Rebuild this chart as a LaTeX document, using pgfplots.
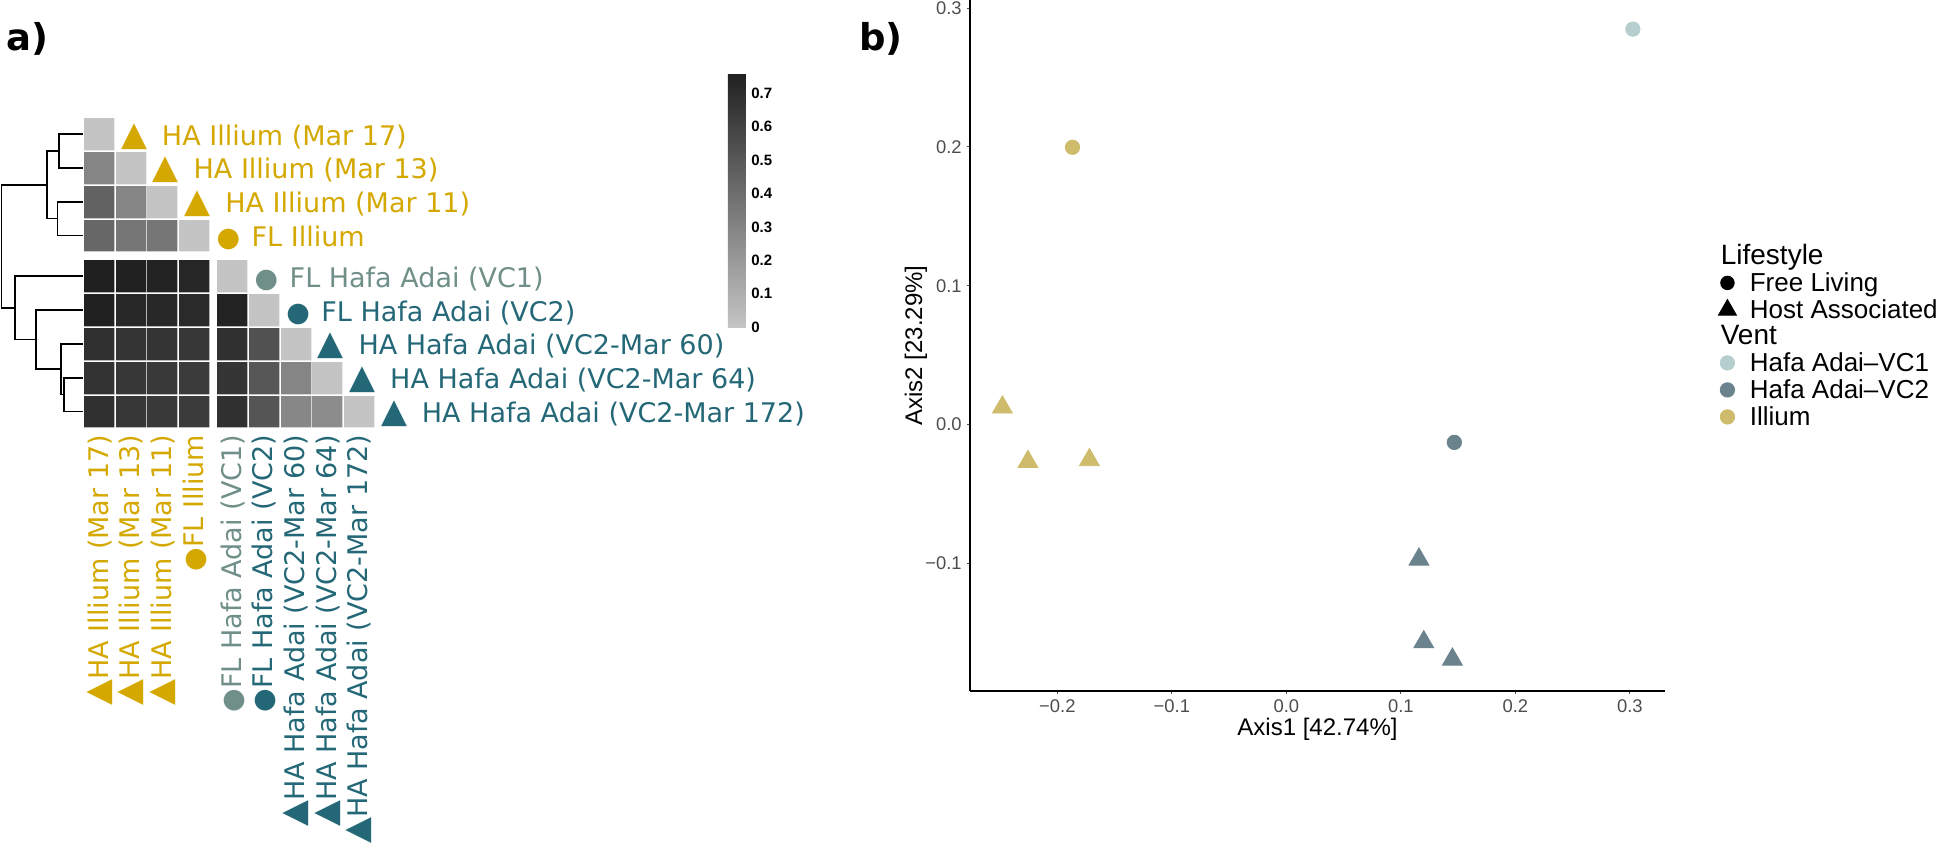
\documentclass[border=0pt]{standalone}
\usepackage{fontspec}
\setmainfont{Liberation Sans}
\newfontfamily\lab{DejaVu Sans}
\newfontfamily\hel{Liberation Sans}
\usepackage{pgfplots}
\pgfplotsset{compat=1.18}
\usepackage{pgfplotstable}
\usetikzlibrary{calc}

\definecolor{ill}{RGB}{212,168,0}
\definecolor{vcone}{RGB}{111,143,136}
\definecolor{vctwo}{RGB}{36,104,120}
\definecolor{pVCone}{RGB}{182,206,206}
\definecolor{pVCtwo}{RGB}{106,131,140}
\definecolor{pIll}{RGB}{206,188,108}
\definecolor{ticklab}{RGB}{77,77,77}

\newcommand\tri{\scalebox{1.25}{▲}}
\newcommand\cir{\scalebox{1.0}{●}}
\newcommand\lfont{\lab\fontsize{13.5}{16}\selectfont}

\pgfplotstableread{
x y v
1 1 0
1 2 0.29
2 2 0
1 3 0.45
2 3 0.29
3 3 0
1 4 0.43
2 4 0.36
3 4 0.36
4 4 0
1 5.2 0.76
2 5.2 0.75
3 5.2 0.74
4 5.2 0.73
5.2 5.2 0
1 6.2 0.75
2 6.2 0.72
3 6.2 0.72
4 6.2 0.71
5.2 6.2 0.74
6.2 6.2 0
1 7.2 0.68
2 7.2 0.66
3 7.2 0.66
4 7.2 0.65
5.2 7.2 0.68
6.2 7.2 0.53
7.2 7.2 0
1 8.2 0.67
2 8.2 0.65
3 8.2 0.64
4 8.2 0.63
5.2 8.2 0.66
6.2 8.2 0.50
7.2 8.2 0.29
8.2 8.2 0
1 9.2 0.68
2 9.2 0.65
3 9.2 0.64
4 9.2 0.63
5.2 9.2 0.68
6.2 9.2 0.51
7.2 9.2 0.28
8.2 9.2 0.26
9.2 9.2 0
}\heat

\begin{document}
\begin{tikzpicture}
\path[use as bounding box] (0,0) rectangle (973pt,-426.5pt);

% panel labels
\node[anchor=base west, inner sep=0pt, font=\lab\bfseries\fontsize{18.5}{20}\selectfont] at (3pt,-25pt) {a)};
\node[anchor=base west, inner sep=0pt, font=\lab\bfseries\fontsize{18.5}{20}\selectfont] at (429.5pt,-25pt) {b)};

% dendrogram
\begin{axis}[at={(0pt,-58.55pt)}, anchor=north west, scale only axis,
  width=41pt, height=155.71pt, xmin=0, xmax=0.82, x dir=reverse,
  ymin=0.5, ymax=9.7, y dir=reverse, hide axis, clip=false]
\addplot[black, solid, no markers, line width=0.8pt, line cap=rect] coordinates {(0,1) (0.23,1) (0.23,2) (0,2)};
\addplot[black, solid, no markers, line width=0.8pt, line cap=rect] coordinates {(0,3) (0.247,3) (0.247,4) (0,4)};
\addplot[black, solid, no markers, line width=0.8pt, line cap=rect] coordinates {(0.23,1.5) (0.353,1.5) (0.353,3.5) (0.247,3.5)};
\addplot[black, solid, no markers, line width=0.8pt, line cap=rect] coordinates {(0,8.2) (0.183,8.2) (0.183,9.2) (0,9.2)};
\addplot[black, solid, no markers, line width=0.8pt, line cap=rect] coordinates {(0,7.2) (0.21,7.2) (0.21,8.7) (0.183,8.7)};
\addplot[black, solid, no markers, line width=0.8pt, line cap=rect] coordinates {(0,6.2) (0.46,6.2) (0.46,7.95) (0.21,7.95)};
\addplot[black, solid, no markers, line width=0.8pt, line cap=rect] coordinates {(0,5.2) (0.67,5.2) (0.67,7.075) (0.46,7.075)};
\addplot[black, solid, no markers, line width=0.8pt, line cap=rect] coordinates {(0.353,2.5) (0.803,2.5) (0.803,6.1375) (0.67,6.1375)};
\end{axis}

% heatmap
\begin{axis}[at={(41.58pt,-58.55pt)}, anchor=north west, scale only axis,
  width=145.82pt, height=155.71pt, xmin=0.5, xmax=9.7, ymin=0.5, ymax=9.7,
  y dir=reverse, axis line style={draw=none}, xtick=\empty, ytick=\empty,
  clip=false,
  colormap={hm}{rgb255=(196,196,196) rgb255=(32,32,32)},
  point meta min=0, point meta max=0.761,
  colorbar,
  colorbar style={
    at={($(parent axis.north east)+(168pt,22.05pt)$)}, anchor=north west,
    scale only axis, width=9pt, height=127pt,
    axis line style={draw=none},
    ytick={0,0.1,0.2,0.3,0.4,0.5,0.6,0.7},
    major tick length=0pt,
    /pgf/number format/assume math mode=true,
    yticklabel style={font=\hel\bfseries\fontsize{7.5}{9}\selectfont, inner sep=0pt, xshift=2.5pt},
  }]
\addplot[scatter, only marks, mark=square*, mark size=7.5pt, point meta=explicit,
  scatter/use mapped color={draw=mapped color, fill=mapped color},
  mark options={yscale=1.057, line width=0.01pt}] table[x=x, y=y, meta=v] {\heat};

% right labels
\node[anchor=base west, inner sep=0pt, text=ill, font=\lfont] at (axis cs:1.69,1.325) {\makebox[20.35pt][l]{\tri}HA Illium (Mar 17)};
\node[anchor=base west, inner sep=0pt, text=ill, font=\lfont] at (axis cs:2.69,2.325) {\makebox[20.35pt][l]{\tri}HA Illium (Mar 13)};
\node[anchor=base west, inner sep=0pt, text=ill, font=\lfont] at (axis cs:3.69,3.325) {\makebox[20.35pt][l]{\tri}HA Illium (Mar 11)};
\node[anchor=base west, inner sep=0pt, text=ill, font=\lfont] at (axis cs:4.7,4.325) {\makebox[17.5pt][l]{\cir}FL Illium};
\node[anchor=base west, inner sep=0pt, text=vcone, font=\lfont] at (axis cs:5.9,5.525) {\makebox[17.5pt][l]{\cir}FL Hafa Adai (VC1)};
\node[anchor=base west, inner sep=0pt, text=vctwo, font=\lfont] at (axis cs:6.9,6.525) {\makebox[17.5pt][l]{\cir}FL Hafa Adai (VC2)};
\node[anchor=base west, inner sep=0pt, text=vctwo, font=\lfont] at (axis cs:7.89,7.525) {\makebox[20.35pt][l]{\tri}HA Hafa Adai (VC2-Mar 60)};
\node[anchor=base west, inner sep=0pt, text=vctwo, font=\lfont] at (axis cs:8.89,8.525) {\makebox[20.35pt][l]{\tri}HA Hafa Adai (VC2-Mar 64)};
\node[anchor=base west, inner sep=0pt, text=vctwo, font=\lfont] at (axis cs:9.89,9.525) {\makebox[20.35pt][l]{\tri}HA Hafa Adai (VC2-Mar 172)};

% bottom labels
\node[anchor=base east, rotate=90, inner sep=0pt, text=ill, font=\lfont] at (axis cs:1.284,9.877) {\tri HA Illium (Mar 17)};
\node[anchor=base east, rotate=90, inner sep=0pt, text=ill, font=\lfont] at (axis cs:2.284,9.877) {\tri HA Illium (Mar 13)};
\node[anchor=base east, rotate=90, inner sep=0pt, text=ill, font=\lfont] at (axis cs:3.284,9.877) {\tri HA Illium (Mar 11)};
\node[anchor=base east, rotate=90, inner sep=0pt, text=ill, font=\lfont] at (axis cs:4.284,9.877) {\cir FL Illium};
\node[anchor=base east, rotate=90, inner sep=0pt, text=vcone, font=\lfont] at (axis cs:5.484,9.877) {\cir FL Hafa Adai (VC1)};
\node[anchor=base east, rotate=90, inner sep=0pt, text=vctwo, font=\lfont] at (axis cs:6.484,9.877) {\cir FL Hafa Adai (VC2)};
\node[anchor=base east, rotate=90, inner sep=0pt, text=vctwo, font=\lfont] at (axis cs:7.484,9.877) {\tri HA Hafa Adai (VC2-Mar 60)};
\node[anchor=base east, rotate=90, inner sep=0pt, text=vctwo, font=\lfont] at (axis cs:8.484,9.877) {\tri HA Hafa Adai (VC2-Mar 64)};
\node[anchor=base east, rotate=90, inner sep=0pt, text=vctwo, font=\lfont] at (axis cs:9.484,9.877) {\tri HA Hafa Adai (VC2-Mar 172)};
\end{axis}

% panel b: PCoA
\begin{axis}[at={(485pt,-345.5pt)}, anchor=south west, scale only axis,
  width=347.5pt, height=345.5pt,
  xmin=-0.2763, xmax=0.3307, ymin=-0.1923, ymax=0.306,
  axis lines*=left, axis line style={line width=0.9pt, black},
  tick align=outside, major tick length=1.5pt,
  tick style={line width=0.5pt, ticklab},
  xtick={-0.2,-0.1,0,0.1,0.2,0.3}, xticklabels={−0.2,−0.1,0.0,0.1,0.2,0.3},
  ytick={-0.1,0,0.1,0.2,0.3}, yticklabels={−0.1,0.0,0.1,0.2,0.3},
  ticklabel style={font=\hel\fontsize{9.2}{10}\selectfont, text=ticklab},
  xticklabel style={inner sep=0pt, yshift=-2.5pt, anchor=north},
  yticklabel style={inner sep=0pt, xshift=-2.5pt, anchor=east},
  xlabel={Axis1 [42.74\%]}, ylabel={Axis2 [23.29\%]},
  xlabel style={at={(axis description cs:0.5,-0.0637)}, anchor=base, font=\hel\fontsize{12}{13}\selectfont},
  ylabel style={at={(axis description cs:-0.069,0.5)}, anchor=base, font=\hel\fontsize{12}{13}\selectfont},
  clip=false,
  legend image code/.code={\path (-8pt,4.5pt) (11pt,4.5pt); \draw[#1] plot coordinates {(0pt,4.5pt)};},
  legend style={at={(axis description cs:1.0662,0.646)}, anchor=north west,
    draw=none, fill=none, inner sep=0pt, outer sep=0pt, row sep=0pt,
    nodes={inner sep=0pt, outer sep=0pt},
    cells={anchor=base west},
    font=\hel\fontsize{13}{14}\selectfont},
  ]
\addplot[only marks, mark=*, mark size=3.6pt, color=pVCone, forget plot] coordinates {(0.3026,0.285)};
\addplot[only marks, mark=*, mark size=3.6pt, color=pIll, forget plot] coordinates {(-0.1868,0.1998)};
\addplot[only marks, mark=triangle*, mark size=5.75pt, color=pIll, forget plot] coordinates {(-0.248,0.0123) (-0.2257,-0.027) (-0.172,-0.0257)};
\addplot[only marks, mark=*, mark size=3.6pt, color=pVCtwo, forget plot] coordinates {(0.1467,-0.013)};
\addplot[only marks, mark=triangle*, mark size=5.75pt, color=pVCtwo, forget plot] coordinates {(0.1158,-0.0974) (0.120,-0.157) (0.145,-0.1695)};

\addlegendimage{empty legend}
\addlegendentry{\fontsize{14}{15}\selectfont\hspace*{-14.5pt}Lifestyle\rule[-12pt]{0pt}{22pt}}
\addlegendimage{only marks, mark=*, mark size=3.4pt, black}
\addlegendentry{Free Living\rule[-5.5pt]{0pt}{17.5pt}}
\addlegendimage{only marks, mark=triangle*, mark size=5.2pt, black}
\addlegendentry{Host Associated\rule[-5.5pt]{0pt}{17.5pt}}
\addlegendimage{empty legend}
\addlegendentry{\fontsize{14}{15}\selectfont\hspace*{-14.5pt}Vent\rule[-8pt]{0pt}{19.5pt}}
\addlegendimage{only marks, mark=*, mark size=3.6pt, pVCone}
\addlegendentry{Hafa Adai–VC1\rule[-5.5pt]{0pt}{17.5pt}}
\addlegendimage{only marks, mark=*, mark size=3.6pt, pVCtwo}
\addlegendentry{Hafa Adai–VC2\rule[-5.5pt]{0pt}{17.5pt}}
\addlegendimage{only marks, mark=*, mark size=3.6pt, pIll}
\addlegendentry{Illium\rule[-5.5pt]{0pt}{17.5pt}}
\end{axis}
\end{tikzpicture}
\end{document}
